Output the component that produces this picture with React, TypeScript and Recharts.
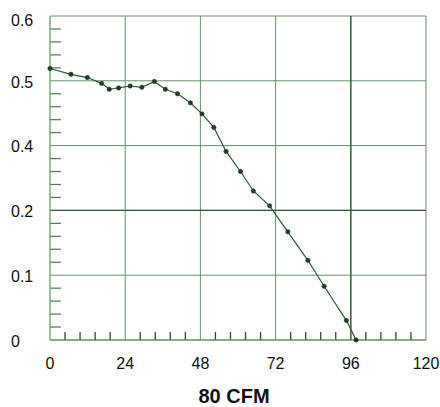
import React from "react";
import { LineChart, Line, XAxis, YAxis, CartesianGrid, ReferenceLine } from "recharts";

// airflow (CFM) of each measured point
const cfm = [0, 6.7, 11.9, 16.5, 18.9, 21.9, 25.6, 29.3, 33.3, 36.8, 40.7, 44.8, 48.5, 52.3, 56.2, 60.8, 64.9, 70.1, 75.9, 82.3, 87.5, 94.6, 97.7];
// static pressure, in grid steps of the printed axis (0..5 → labels below)
const pressure = [4.19, 4.1, 4.05, 3.96, 3.87, 3.89, 3.92, 3.9, 3.99, 3.87, 3.8, 3.66, 3.49, 3.28, 2.91, 2.6, 2.3, 2.07, 1.67, 1.23, 0.83, 0.3, 0];

const xTicks = [0, 24, 48, 72, 96, 120];
const yTicks = [0, 1, 2, 3, 4, 5];
const yTickLabels = ["0", "0.1", "0.2", "0.4", "0.5", "0.6"];
const xMinorTicks = [4.8, 9.6, 14.4, 19.2, 28.8, 33.6, 38.4, 43.2, 52.8, 57.6, 62.4, 67.2, 76.8, 81.6, 86.4, 91.2, 100.8, 105.6, 110.4, 115.2];
const yMinorTicks = [0.2, 0.4, 0.6, 0.8, 1.2, 1.4, 1.6, 1.8, 2.2, 2.4, 2.6, 2.8, 3.2, 3.4, 3.6, 3.8, 4.2, 4.4, 4.6, 4.8];
const title = "80 CFM";

const data = cfm.map((x, i) => ({ x, y: pressure[i] }));

// minor tick lengths, in axis units (≈8 px and ≈11 px)
const X_MINOR_LEN = 0.125;
const Y_MINOR_LEN = 3.5;

const FONT = "'Liberation Sans', Arial, Helvetica, sans-serif";
const GRID = "#679067";
const DARK = "#2f5a33";

const YTick = (props: any) => {
  const { y, payload } = props;
  const idx = yTicks.indexOf(payload.value);
  const shift = payload.value === 5 ? 4 : 1;
  return (
    <text x={11} y={y + shift} dy="0.36em" textAnchor="start" fontSize={16} fill="#111" fontFamily={FONT}>
      {yTickLabels[idx]}
    </text>
  );
};

export default function App() {
  return (
    <div style={{ position: "absolute", left: 0, top: 0, width: 440, height: 407, background: "#fff" }}>
      <LineChart width={440} height={407} data={data} margin={{ top: 16, right: 14, left: 0, bottom: 37 }}>
        <CartesianGrid stroke={GRID} strokeWidth={1} />
        <XAxis
          dataKey="x"
          type="number"
          domain={[0, 120]}
          ticks={xTicks}
          tickLine={false}
          tickSize={0}
          tickMargin={18}
          axisLine={{ stroke: GRID }}
          height={30}
          tick={{ fontSize: 16, fill: "#111", fontFamily: FONT }}
          interval={0}
        />
        <YAxis
          type="number"
          domain={[0, 5]}
          ticks={yTicks}
          tickLine={false}
          tickSize={0}
          axisLine={{ stroke: "#8fb58f" }}
          width={50}
          tick={<YTick />}
          interval={0}
        />
        {xMinorTicks.map((v) => (
          <ReferenceLine
            key={"xm" + v}
            segment={[{ x: v, y: 0 }, { x: v, y: X_MINOR_LEN }]}
            stroke="#2a4a2e"
            strokeWidth={1.3}
          />
        ))}
        {yMinorTicks.map((v) => (
          <ReferenceLine
            key={"ym" + v}
            segment={[{ x: 0, y: v }, { x: Y_MINOR_LEN, y: v }]}
            stroke="#4d7a50"
            strokeWidth={1.2}
          />
        ))}
        <ReferenceLine y={2} stroke={DARK} strokeWidth={1.3} />
        <ReferenceLine x={96} stroke={DARK} strokeWidth={1.3} />
        <Line
          dataKey="y"
          type="linear"
          stroke="#2d5a35"
          strokeWidth={1.2}
          dot={{ r: 2.2, fill: "#1e3d24", stroke: "#1e3d24", strokeWidth: 0.5 }}
          isAnimationActive={false}
        />
      </LineChart>
      <div
        style={{
          position: "absolute",
          left: 234,
          top: 386,
          transform: "translateX(-50%)",
          fontFamily: FONT,
          fontWeight: "bold",
          fontSize: 20,
          lineHeight: "20px",
          whiteSpace: "nowrap",
          color: "#111",
        }}
      >
        {title}
      </div>
    </div>
  );
}
